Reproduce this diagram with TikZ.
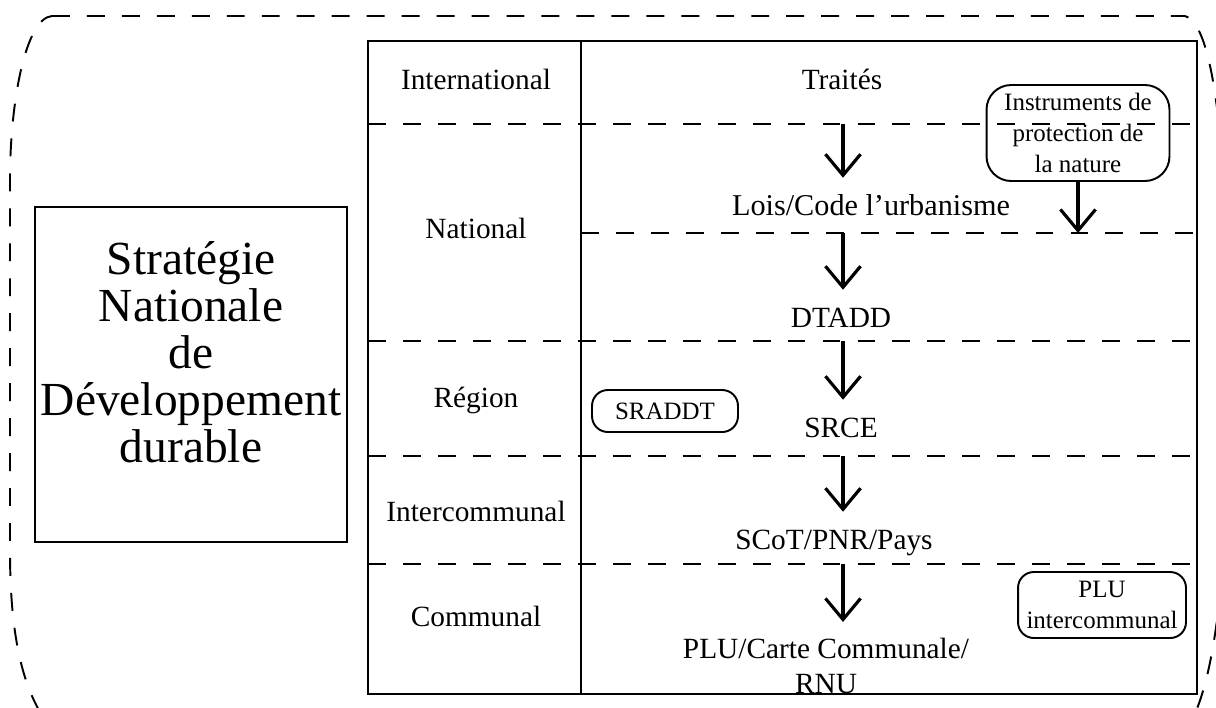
\documentclass[tikz,border=0pt]{standalone}
\usepackage{fontspec}
\setmainfont{Liberation Serif}
\usepackage{tikz}
\usetikzlibrary{calc,positioning,arrows.meta}

\begin{document}
\begin{tikzpicture}[x=0.02cm, y=-0.02cm,
  lvl/.style={font=\fontsize{16.7}{20}\selectfont, inner sep=1pt, anchor=base, text height=12pt},
  doc/.style={draw, line width=1.1pt, rounded corners=9pt, align=center, inner sep=1pt, font=\fontsize{14.2}{17.5}\selectfont},
  sep/.style={line width=1.1pt, dash pattern=on 10.2pt off 9.7pt},
  arr/.style={line width=1.8pt, -{Straight Barb[length=12pt,width=20pt]}, shorten >=8pt}]
\tikzstyle{frame}=[line width=1.1pt, dash pattern=on 10.2pt off 9.7pt]
\useasboundingbox (0,0) rectangle (1216,707);
\clip (0,0) rectangle (1216,707);
% outer dashed frame
\draw[frame] (52,16) -- (1185,16) .. controls (1205,22) and (1218,80) .. (1225,200) -- (1225,520)
  .. controls (1222,600) and (1212,680) .. (1192,720) -- (45,720)
  .. controls (18,680) and (10,620) .. (10,550) -- (10,180)
  .. controls (10,100) and (26,18) .. (52,16) -- cycle;
% strategy box
\node[draw, line width=1.1pt, minimum width=6.24cm, minimum height=6.7cm] (sndbox) at (191,374.5) {};
\node[align=center, font=\fontsize{27}{26.7}\selectfont] (sndtxt) at (191,352)
  {Stratégie\\Nationale\\de\\Développement\\durable};
% table
\draw[line width=1.4pt] (368,41) rectangle (1197,694);
\draw[line width=1.4pt] (581,41) -- (581,694);
\foreach \x/\y [count=\i] in {368/124,581/233,368/341,368/456,368/564}{
  \draw[sep] (\x,\y) -- (1197,\y);
  \coordinate (d\i) at (843,\y);
}
% levels
\node[lvl] (intl) at (476,89) {International};
\node[lvl] (natl) at (476,238) {National};
\node[lvl] (regn) at (476,407) {Région};
\node[lvl] (icom) at (476,521) {Intercommunal};
\node[lvl] (comm) at (476,626) {Communal};
% documents
\node[lvl] (trait) at (842,89) {Traités};
\node[lvl, font=\fontsize{17.2}{20}\selectfont] (lois) at (871,215) {Lois/Code l’urbanisme};
\node[lvl] (dtadd) at (841,327) {DTADD};
\node[lvl] (srce) at (841,437) {SRCE};
\node[lvl] (scot) at (834,549) {SCoT/PNR/Pays};
\node[font=\fontsize{16.7}{20}\selectfont, inner sep=1pt, align=center, anchor=north] (plu) at (826,636)
  {PLU/Carte Communale/\\RNU};
\node[doc, minimum width=3.66cm, minimum height=1.92cm, rounded corners=14pt] (inst) at (1078,133)
  {Instruments de\\protection de\\la nature};
\node[doc, minimum width=2.92cm, minimum height=0.84cm] (sraddt) at (665,411) {SRADDT};
\node[doc, minimum width=3.36cm, minimum height=1.32cm] (pluic) at (1102,605) {PLU\\intercommunal};
% arrows
\foreach \i/\n in {1/lois,2/dtadd,3/srce,4/scot,5/plu}{
  \draw[arr] (d\i) -- (d\i |- \n.north);
}
\draw[arr, shorten >=0pt] (inst) -- (inst |- d2);
\end{tikzpicture}
\end{document}
